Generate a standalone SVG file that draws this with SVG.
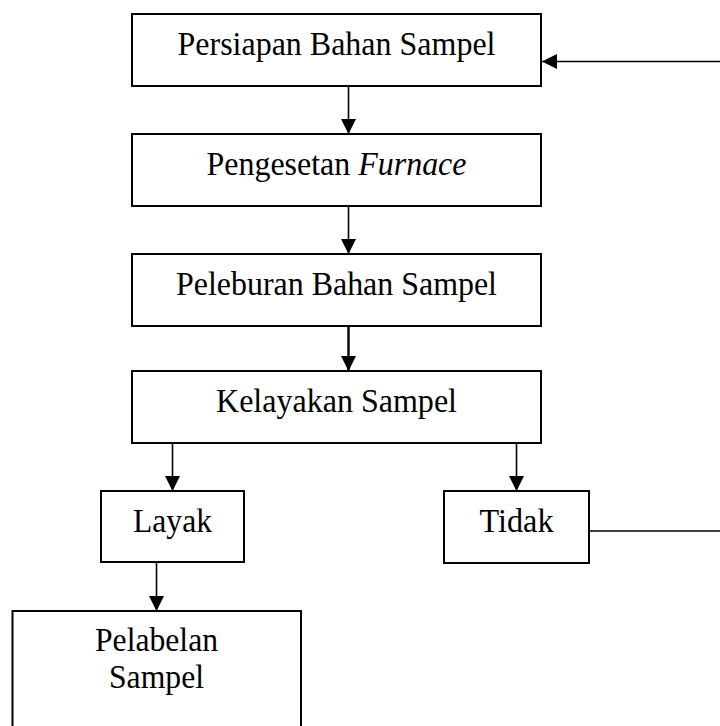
<svg xmlns="http://www.w3.org/2000/svg" width="720" height="726" viewBox="0 0 720 726">
<defs>
<style>
.box{fill:#fff;stroke:#000;stroke-width:2}
.lbl{font-family:"Liberation Serif","Times New Roman",serif;font-size:33px;fill:#000;text-anchor:middle}
.con{fill:none;stroke:#000;stroke-width:1.6}
</style>
<marker id="ah" markerUnits="userSpaceOnUse" markerWidth="15" markerHeight="15" refX="15" refY="7.5" orient="auto">
<path d="M0,0 L15,7.5 L0,15 Z" fill="#000"/>
</marker>
</defs>
<rect width="720" height="726" fill="#fff"/>
<g id="connectors">
<line class="con" x1="720" y1="61.5" x2="542" y2="61.5" marker-end="url(#ah)"/>
<line class="con" x1="348.5" y1="86" x2="348.5" y2="134" marker-end="url(#ah)"/>
<line class="con" x1="348.5" y1="206" x2="348.5" y2="254" marker-end="url(#ah)"/>
<line class="con" x1="348.5" y1="322" x2="348.5" y2="371" marker-end="url(#ah)" style="stroke-width:2.4"/>
<line class="con" x1="172.5" y1="443" x2="172.5" y2="491" marker-end="url(#ah)"/>
<line class="con" x1="516.5" y1="443" x2="516.5" y2="491" marker-end="url(#ah)"/>
<line class="con" x1="156.5" y1="562" x2="156.5" y2="611" marker-end="url(#ah)"/>
<line class="con" x1="589" y1="531" x2="720" y2="531"/>
</g>
<g id="n1">
<rect class="box" x="132" y="14" width="409" height="72"/>
<text class="lbl" x="336.5" y="55" textLength="318" lengthAdjust="spacingAndGlyphs">Persiapan Bahan Sampel</text>
</g>
<g id="n2">
<rect class="box" x="132" y="134" width="409" height="72"/>
<text class="lbl" x="336.5" y="175" textLength="260" lengthAdjust="spacingAndGlyphs">Pengesetan <tspan font-style="italic">Furnace</tspan></text>
</g>
<g id="n3">
<rect class="box" x="132" y="254" width="409" height="72"/>
<text class="lbl" x="336.5" y="295" textLength="321" lengthAdjust="spacingAndGlyphs">Peleburan Bahan Sampel</text>
</g>
<g id="n4">
<rect class="box" x="132" y="371" width="409" height="72"/>
<text class="lbl" x="336.5" y="412" textLength="241" lengthAdjust="spacingAndGlyphs">Kelayakan Sampel</text>
</g>
<g id="n5">
<rect class="box" x="101" y="491" width="143" height="71"/>
<text class="lbl" x="172.5" y="532" textLength="79" lengthAdjust="spacingAndGlyphs">Layak</text>
</g>
<g id="n6">
<rect class="box" x="444" y="491" width="145" height="72"/>
<text class="lbl" x="516.5" y="532" textLength="74" lengthAdjust="spacingAndGlyphs">Tidak</text>
</g>
<g id="n7">
<rect class="box" x="12.5" y="611" width="288.5" height="130"/>
<text class="lbl" x="156.5" y="651" textLength="123" lengthAdjust="spacingAndGlyphs">Pelabelan</text>
<text class="lbl" x="156.5" y="687.5" textLength="95" lengthAdjust="spacingAndGlyphs">Sampel</text>
</g>
</svg>
